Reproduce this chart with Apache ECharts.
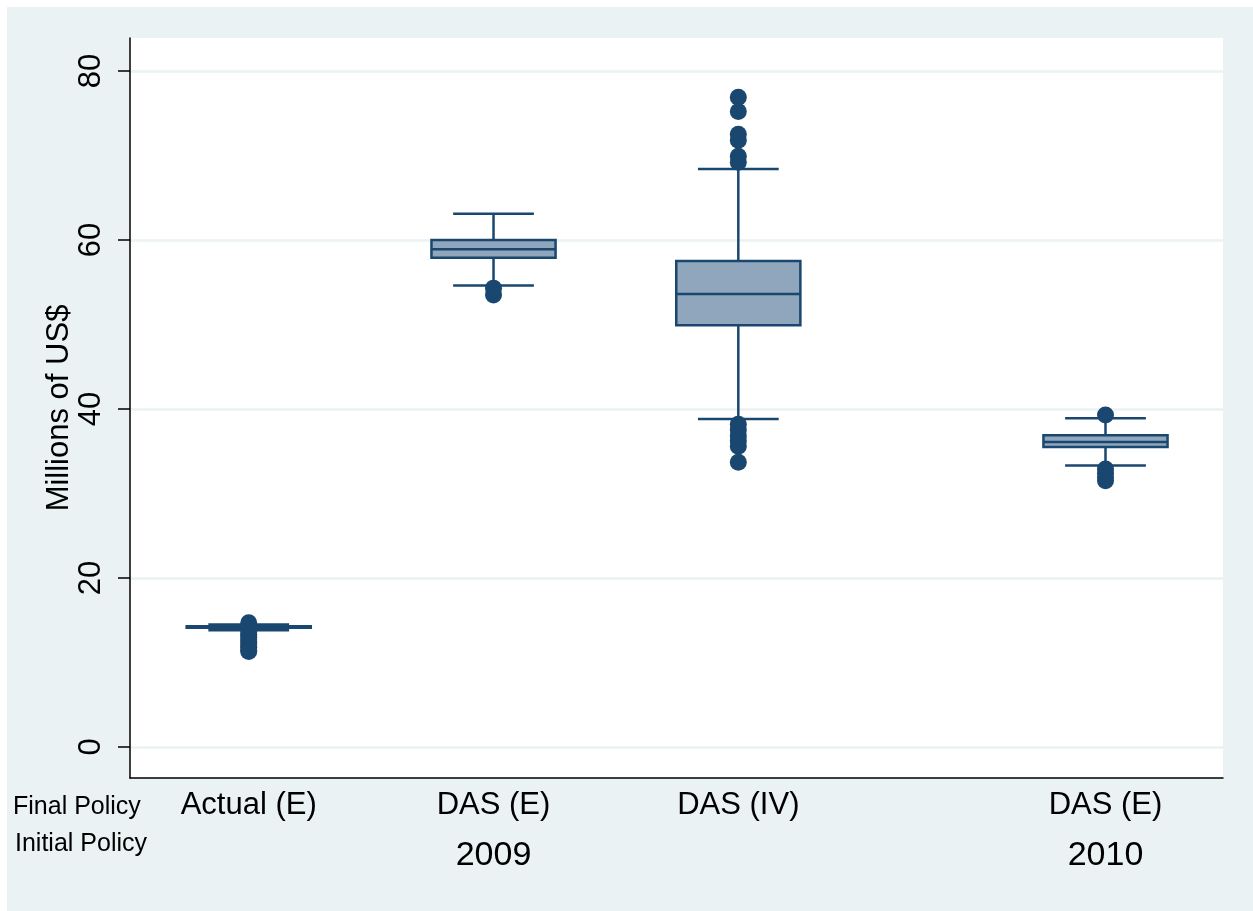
<!DOCTYPE html>
<html>
<head>
<meta charset="utf-8">
<script src="https://cdn.jsdelivr.net/npm/echarts@6/dist/echarts.min.js"></script>
<style>
  html, body { margin: 0; padding: 0; background: #ffffff; }
  #chart { position: absolute; left: 7px; top: 7px; width: 1246px; height: 904px; }
</style>
</head>
<body>
<div id="chart"></div>
<script>
// ---- data ----
const positions = [1, 2, 3, 4.5];
const categoryLabels = ['Actual (E)', 'DAS (E)', 'DAS (IV)', 'DAS (E)'];
const yearPositions = [2, 4.5];
const yearLabels = ['2009', '2010'];
const whiskerLow = [13.8, 54.6, 38.8, 33.3];
const q1 = [14.1, 57.9, 49.9, 35.5];
const median = [14.2, 58.9, 53.6, 36.1];
const q3 = [14.3, 60.0, 57.5, 36.9];
const whiskerHigh = [14.5, 63.1, 68.4, 38.9];
const outliersActual = [14.7, 13.6, 13.3, 13.0, 12.7, 12.4, 12.1, 11.8, 11.5, 11.3];
const outliersDasE2009 = [54.3, 53.5];
const outliersDasIV = [76.9, 75.2, 72.5, 71.8, 69.9, 69.2, 38.2, 37.5, 36.8, 36.2, 35.6, 33.7];
const outliersDasE2010 = [39.3, 32.9, 32.4, 31.9, 31.5];
const yTicks = [0, 20, 40, 60, 80];
const rowLabels = ['Final Policy', 'Initial Policy'];

const NAVY = '#1A476F';
const FILL = '#8FA6BC';
const BOX_W = 0.507;
const CAP_W = 0.33;
const FONT = 'Liberation Sans, Arial, Helvetica, sans-serif';

const outlierGroups = [outliersActual, outliersDasE2009, outliersDasIV, outliersDasE2010];
const outlierData = [];
outlierGroups.forEach((g, i) => g.forEach(v => outlierData.push([positions[i], v])));
const boxData = positions.map((p, i) => [p, whiskerLow[i], q1[i], median[i], q3[i], whiskerHigh[i]]);

const chart = echarts.init(document.getElementById('chart'), null, { renderer: 'canvas' });
const xMin = 0.515, xMax = 4.98;

chart.setOption({
  backgroundColor: '#EAF2F3',
  animation: false,
  textStyle: { fontFamily: FONT },
  grid: {
    left: 123, top: 31, width: 1093, height: 740,
    show: true, backgroundColor: '#ffffff', borderWidth: 0
  },
  xAxis: [{
    type: 'value', min: xMin, max: xMax, position: 'bottom',
    axisLine: { show: true, onZero: false, lineStyle: { color: '#000', width: 1.5 } },
    axisTick: { show: false },
    splitLine: { show: false },
    axisLabel: {
      customValues: positions,
      formatter: v => { const i = positions.indexOf(v); return i >= 0 ? categoryLabels[i] : ''; },
      fontSize: 31, color: '#000', margin: 12, fontFamily: FONT
    }
  }, {
    type: 'value', min: xMin, max: xMax, position: 'bottom', offset: 0,
    axisLine: { show: false },
    axisTick: { show: false },
    splitLine: { show: false },
    axisLabel: {
      customValues: yearPositions,
      formatter: v => { const i = yearPositions.indexOf(v); return i >= 0 ? yearLabels[i] : ''; },
      fontSize: 34, color: '#000', margin: 61, fontFamily: FONT
    }
  }],
  yAxis: {
    type: 'value', min: -3.67, max: 83.9,
    name: 'Millions of US$', nameLocation: 'middle', nameRotate: 90, nameGap: 55,
    nameMoveOverlap: false,
    nameTextStyle: { fontSize: 31, color: '#000', fontFamily: FONT },
    axisLine: { show: true, onZero: false, lineStyle: { color: '#000', width: 1.5 } },
    axisTick: { show: true, customValues: yTicks, length: 12, lineStyle: { color: '#000', width: 1.5 } },
    splitLine: { show: true, lineStyle: { color: '#EAF2F3', width: 2.5 } },
    axisLabel: { customValues: yTicks, rotate: 90, fontSize: 31, color: '#000', margin: 23, fontFamily: FONT }
  },
  graphic: rowLabels.map((t, i) => ({
    type: 'text', left: i === 0 ? 6 : 8, top: i === 0 ? 788 : 825,
    style: { text: t, font: '25px ' + FONT, fill: '#000' }
  })),
  series: [{
    type: 'custom',
    xAxisIndex: 0,
    data: boxData,
    encode: { x: 0, y: [1, 2, 3, 4, 5] },
    z: 2,
    renderItem: function (params, api) {
      const x = api.value(0);
      const lo = api.coord([x, api.value(1)]);
      const b1 = api.coord([x, api.value(2)]);
      const md = api.coord([x, api.value(3)]);
      const b3 = api.coord([x, api.value(4)]);
      const hi = api.coord([x, api.value(5)]);
      const bw = api.size([BOX_W, 0])[0];
      const cw = api.size([CAP_W, 0])[0];
      const ls = { stroke: NAVY, lineWidth: 2.5, fill: null };
      return {
        type: 'group',
        children: [
          { type: 'line', shape: { x1: lo[0], y1: lo[1], x2: b1[0], y2: b1[1] }, style: ls },
          { type: 'line', shape: { x1: b3[0], y1: b3[1], x2: hi[0], y2: hi[1] }, style: ls },
          { type: 'line', shape: { x1: lo[0] - cw / 2, y1: lo[1], x2: lo[0] + cw / 2, y2: lo[1] }, style: ls },
          { type: 'line', shape: { x1: hi[0] - cw / 2, y1: hi[1], x2: hi[0] + cw / 2, y2: hi[1] }, style: ls },
          { type: 'rect', shape: { x: b3[0] - bw / 2, y: b3[1], width: bw, height: b1[1] - b3[1] },
            style: { fill: FILL, stroke: NAVY, lineWidth: 2.5 } },
          { type: 'line', shape: { x1: md[0] - bw / 2, y1: md[1], x2: md[0] + bw / 2, y2: md[1] }, style: ls }
        ]
      };
    }
  }, {
    type: 'scatter',
    xAxisIndex: 0,
    data: outlierData,
    symbol: 'circle',
    symbolSize: 17,
    itemStyle: { color: NAVY, opacity: 1 },
    z: 3
  }]
});
</script>
</body>
</html>
